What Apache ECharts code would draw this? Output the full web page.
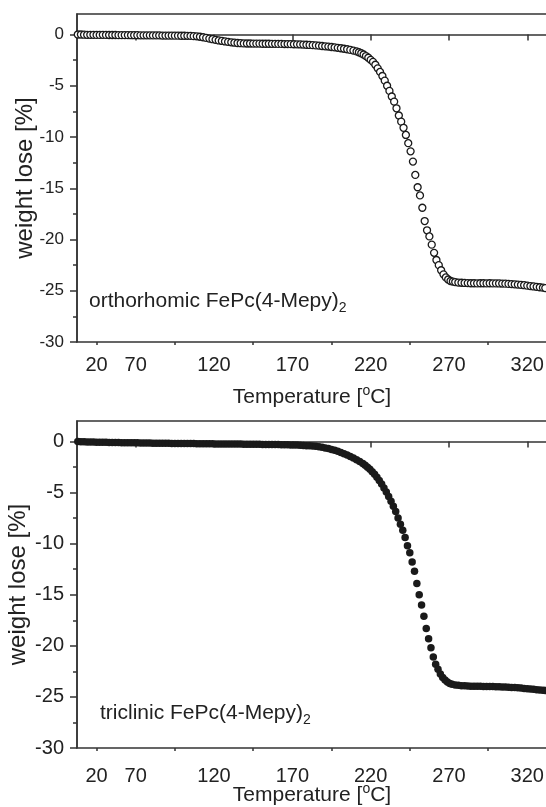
<!DOCTYPE html>
<html>
<head>
<meta charset="utf-8">
<script src="https://cdn.jsdelivr.net/npm/echarts@6/dist/echarts.min.js"></script>
<style>
  html, body { margin: 0; padding: 0; background: #fff; }
  #chart { width: 546px; height: 807px; }
</style>
</head>
<body>
<div id="chart"></div>
<script>
// upper panel: orthorhombic form (open circles)
const tempTop = [
  33, 35, 37, 39, 41, 43, 45, 47, 49, 51, 53, 55, 57, 59, 61, 63, 65, 67, 69, 71,
  73, 75, 77, 79, 81, 83, 85, 87, 89, 91, 93, 95, 97, 99, 101, 103, 105, 107, 109, 111,
  113, 115, 117, 119, 121, 123, 125, 127, 129, 131, 133, 135, 137, 139, 141, 143, 145, 147, 149, 151,
  153, 155, 157, 159, 161, 163, 165, 167, 169, 171, 173, 175, 177, 179, 181, 183, 185, 187, 189, 191,
  193, 195, 197, 199, 201, 203, 205, 207, 209, 211, 212.5, 214, 215.5, 217, 218.5, 220, 221.5, 223, 224.5, 226,
  227.5, 229, 230.5, 232, 233.5, 235, 236.5, 238, 239.5, 241, 242.5, 244, 245.5, 247, 248.5, 250, 251.5, 253, 254.5, 256,
  257.5, 259, 260.5, 262, 263.5, 265, 266.5, 268, 269.5, 271, 272.5, 274, 276, 278, 280, 282, 284, 286, 288, 290,
  292, 294, 296, 298, 300, 302, 304, 306, 308, 310, 312, 314, 316, 318, 320, 322, 324, 326, 328, 330, 331.5
];
const lossTop = [
  0, 0, -0.02, -0.03, -0.03, -0.03, -0.04, -0.04, -0.03, -0.04, -0.05, -0.05, -0.05, -0.06, -0.06, -0.06, -0.06, -0.07, -0.07, -0.07,
  -0.08, -0.08, -0.08, -0.08, -0.09, -0.09, -0.09, -0.1, -0.1, -0.1, -0.1, -0.11, -0.11, -0.12, -0.12, -0.13, -0.14, -0.16, -0.18, -0.22,
  -0.27, -0.33, -0.4, -0.46, -0.52, -0.58, -0.63, -0.68, -0.72, -0.76, -0.8, -0.83, -0.85, -0.87, -0.88, -0.88, -0.89, -0.89, -0.89, -0.9,
  -0.9, -0.9, -0.91, -0.91, -0.92, -0.92, -0.93, -0.93, -0.94, -0.95, -0.96, -0.97, -0.98, -1.0, -1.02, -1.04, -1.06, -1.09, -1.12, -1.15,
  -1.18, -1.22, -1.26, -1.3, -1.34, -1.39, -1.44, -1.5, -1.57, -1.65, -1.73, -1.83, -1.95, -2.1, -2.27, -2.47, -2.67, -2.95, -3.3, -3.65,
  -4.05, -4.5, -5.0, -5.5, -6.05, -6.55, -7.2, -7.9, -8.5, -9.1, -9.8, -10.6, -11.4, -12.4, -13.7, -14.9, -15.7, -16.9, -18.2, -19.1,
  -19.7, -20.5, -21.3, -22.0, -22.5, -23.0, -23.4, -23.7, -23.9, -24.05, -24.1, -24.15, -24.2, -24.22, -24.24, -24.25, -24.27, -24.27, -24.28, -24.27,
  -24.27, -24.28, -24.27, -24.28, -24.28, -24.29, -24.3, -24.31, -24.33, -24.35, -24.37, -24.4, -24.43, -24.46, -24.5, -24.54, -24.58, -24.62, -24.66, -24.7, -24.74
];

// lower panel: triclinic form (filled circles)
const tempBottom = [
  33, 35, 37, 39, 41, 43, 45, 47, 49, 51, 53, 55, 57, 59, 61, 63, 65, 67, 69, 71,
  73, 75, 77, 79, 81, 83, 85, 87, 89, 91, 93, 95, 97, 99, 101, 103, 105, 107, 109, 111,
  113, 115, 117, 119, 121, 123, 125, 127, 129, 131, 133, 135, 137, 139, 141, 143, 145, 147, 149, 151,
  153, 155, 157, 159, 161, 163, 165, 167, 169, 171, 173, 175, 177, 179, 181, 183, 185, 187, 189, 191,
  193, 195, 197, 199, 201, 203, 205, 207, 209, 211, 213, 215, 216.5, 218, 219.5, 221, 222.5, 224, 225.5, 227,
  228.5, 230, 231.5, 233, 234.5, 236, 237.5, 239, 240.5, 242, 243.5, 245, 246.5, 248, 249.5, 251, 252.5, 254, 255.5, 257,
  258.5, 260, 261.5, 263, 264.5, 266, 267.5, 269, 270.5, 272, 274, 276, 278, 280, 282, 284, 286, 288, 290, 292,
  294, 296, 298, 300, 302, 304, 306, 308, 310, 312, 314, 316, 318, 320, 322, 324, 326, 328, 330, 331.5
];
const lossBottom = [
  0, -0.02, -0.03, -0.05, -0.06, -0.06, -0.07, -0.08, -0.08, -0.09, -0.1, -0.1, -0.11, -0.11, -0.12, -0.12, -0.13, -0.13, -0.14, -0.14,
  -0.15, -0.15, -0.16, -0.16, -0.17, -0.17, -0.17, -0.18, -0.18, -0.18, -0.19, -0.19, -0.2, -0.2, -0.2, -0.21, -0.21, -0.21, -0.22, -0.22,
  -0.22, -0.23, -0.23, -0.23, -0.24, -0.24, -0.24, -0.25, -0.25, -0.25, -0.26, -0.26, -0.26, -0.27, -0.27, -0.27, -0.28, -0.28, -0.28, -0.29,
  -0.29, -0.3, -0.3, -0.31, -0.31, -0.32, -0.32, -0.33, -0.34, -0.35, -0.36, -0.37, -0.39, -0.41, -0.43, -0.45, -0.48, -0.52, -0.57, -0.63,
  -0.7, -0.78, -0.87, -0.97, -1.08, -1.2, -1.33, -1.47, -1.62, -1.78, -1.96, -2.16, -2.33, -2.52, -2.73, -2.96, -3.22, -3.5, -3.82, -4.17,
  -4.55, -4.95, -5.4, -5.85, -6.35, -6.85, -7.5, -8.1, -8.7, -9.4, -10.2, -10.9, -11.8, -12.7, -13.9, -15.0, -16.0, -17.1, -18.3, -19.3,
  -20.2, -21.1, -21.8, -22.3, -22.75, -23.1, -23.35, -23.55, -23.68, -23.77, -23.83, -23.87, -23.9, -23.92, -23.94, -23.95, -23.95, -23.96, -23.96, -23.97,
  -23.97, -23.98, -23.99, -24.0, -24.01, -24.02, -24.03, -24.05, -24.07, -24.09, -24.11, -24.14, -24.17, -24.2, -24.23, -24.26, -24.3, -24.33, -24.36, -24.38
];

// axis ticks as printed in the figure (the "20" label sits on the first minor tick)
const xMajorTicks = [70, 120, 170, 220, 270, 320];
const xMinorTicks = [45, 95, 145, 195, 245, 295];
const xLabelValues = [45, 70, 120, 170, 220, 270, 320];
const xLabelTexts = ['20', '70', '120', '170', '220', '270', '320'];
const yMajorTicks = [-30, -25, -20, -15, -10, -5, 0];
const yMinorTicks = [-27.5, -22.5, -17.5, -12.5, -7.5, -2.5];

const font = 'Liberation Sans, Arial, sans-serif';
const ink = '#222';
const plotWidth = 470;

const chart = echarts.init(document.getElementById('chart'), null, { renderer: 'canvas' });

const panels = [
  { top: 14, height: 328, yLabelSize: 17, xMargin: 13, nameGap: 42, yNameGap: 40 },
  { top: 421, height: 327, yLabelSize: 20, xMargin: 18, nameGap: 34, yNameGap: 47 }
];

const grids = [], xAxes = [], yAxes = [];
panels.forEach(function (p, i) {
  grids.push({
    left: 77, top: p.top, width: plotWidth, height: p.height,
    outerBoundsMode: 'none', containLabel: false,
    show: true, borderColor: '#333', borderWidth: 1.5, backgroundColor: 'transparent'
  });
  xAxes.push({
    gridIndex: i, type: 'value', min: 32.5, max: 332.6, position: 'bottom',
    axisLine: { show: true, lineStyle: { color: '#333', width: 1.5 } },
    axisTick: { show: true, customValues: xMajorTicks, length: 6, lineStyle: { color: '#333', width: 1.5 } },
    axisLabel: {
      customValues: xLabelValues, margin: p.xMargin, color: ink, fontSize: 20, fontFamily: font,
      formatter: function (v) { return xLabelTexts[xLabelValues.indexOf(v)]; }
    },
    splitLine: { show: false },
    name: '{n|Temperature [}{s|o}{n|C]}',
    nameLocation: 'middle', nameGap: p.nameGap, nameMoveOverlap: false,
    nameTextStyle: {
      rich: {
        n: { fontSize: 21, fontFamily: font, color: ink, lineHeight: 26, verticalAlign: 'middle' },
        s: { fontSize: 14, fontFamily: font, color: ink, lineHeight: 14, verticalAlign: 'top' }
      }
    }
  });
  // minor ticks, placed on the bottom edge through offset
  xAxes.push({
    gridIndex: i, type: 'value', min: 32.5, max: 332.6, position: 'top', offset: -p.height,
    axisLine: { show: false },
    axisTick: { show: true, inside: true, customValues: xMinorTicks, length: 3, lineStyle: { color: '#333', width: 1.5 } },
    axisLabel: { show: false },
    splitLine: { show: false }
  });
  yAxes.push({
    gridIndex: i, type: 'value', min: -30, max: 2, position: 'left',
    axisLine: { show: true, lineStyle: { color: '#333', width: 1.5 } },
    axisTick: { show: true, customValues: yMajorTicks, length: 7, lineStyle: { color: '#333', width: 1.5 } },
    axisLabel: { customValues: yMajorTicks, margin: 13, color: ink, fontSize: p.yLabelSize, fontFamily: font },
    splitLine: { show: false },
    name: 'weight lose [%]',
    nameLocation: 'middle', nameGap: p.yNameGap, nameMoveOverlap: false,
    nameTextStyle: { fontSize: 24, fontFamily: font, color: ink }
  });
  yAxes.push({
    gridIndex: i, type: 'value', min: -30, max: 2, position: 'right', offset: -plotWidth,
    axisLine: { show: false },
    axisTick: { show: true, inside: true, customValues: yMinorTicks, length: 4, lineStyle: { color: '#333', width: 1.5 } },
    axisLabel: { show: false },
    splitLine: { show: false }
  });
});

const option = {
  backgroundColor: '#fff',
  animation: false,
  grid: grids,
  xAxis: xAxes,
  yAxis: yAxes,
  graphic: [
    {
      type: 'text', left: 89, top: 291,
      style: {
        text: '{a|orthorhomic FePc(4-Mepy)}{s|2}',
        rich: {
          a: { fontSize: 21, fontFamily: font, fill: ink, lineHeight: 28, verticalAlign: 'middle' },
          s: { fontSize: 14, fontFamily: font, fill: ink, lineHeight: 14, verticalAlign: 'bottom' }
        }
      }
    },
    {
      type: 'text', left: 100, top: 703,
      style: {
        text: '{a|triclinic FePc(4-Mepy)}{s|2}',
        rich: {
          a: { fontSize: 21, fontFamily: font, fill: ink, lineHeight: 28, verticalAlign: 'middle' },
          s: { fontSize: 14, fontFamily: font, fill: ink, lineHeight: 14, verticalAlign: 'bottom' }
        }
      }
    }
  ],
  series: [
    {
      type: 'scatter', xAxisIndex: 0, yAxisIndex: 0,
      symbol: 'circle', symbolSize: 7,
      itemStyle: { color: '#fff', borderColor: '#1a1a1a', borderWidth: 1.3, opacity: 1 },
      data: tempTop.map(function (t, k) { return [t, lossTop[k]]; })
    },
    {
      type: 'scatter', xAxisIndex: 2, yAxisIndex: 2,
      symbol: 'circle', symbolSize: 7.5,
      itemStyle: { color: '#1a1a1a', opacity: 1 },
      data: tempBottom.map(function (t, k) { return [t, lossBottom[k]]; })
    }
  ]
};

chart.setOption(option);
</script>
</body>
</html>
